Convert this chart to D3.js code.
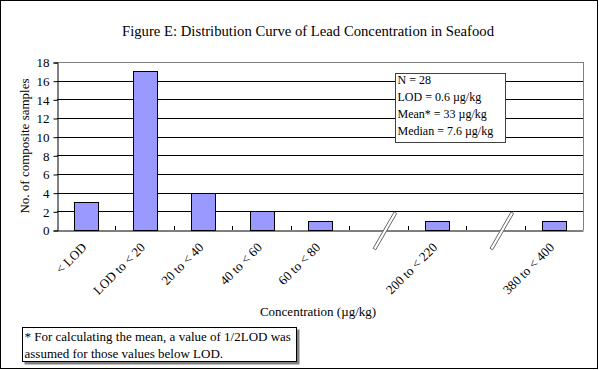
<!DOCTYPE html>
<html>
<head>
<meta charset="utf-8">
<script src="https://cdnjs.cloudflare.com/ajax/libs/d3/7.8.5/d3.min.js"></script>
<style>
  body { margin: 0; background: #fff; }
  text { font-family: "Liberation Serif", "Times New Roman", serif; fill: #000; }
</style>
</head>
<body>
<div id="chart"></div>
<script>
// Chart data.
var categories = ['< LOD', 'LOD to < 20', '20 to < 40', '40 to < 60', '60 to < 80', 'break1', '200 to < 220', 'break2', '380 to < 400'];
var counts = [3, 17, 4, 2, 1, null, 1, null, 1];
var yTicks = [0, 2, 4, 6, 8, 10, 12, 14, 16, 18];
var statsLines = ['N = 28', 'LOD = 0.6 \u00b5g/kg', 'Mean* = 33 \u00b5g/kg', 'Median = 7.6 \u00b5g/kg'];
var noteLines = ['* For calculating the mean, a value of 1/2LOD was', 'assumed for those values below LOD.'];

var W = 599, H = 370;
var plot = {left: 57, top: 62, right: 583, bottom: 230};

var svg = d3.select('#chart')
    .append('svg')
        .attr('width', W)
        .attr('height', H);

// outer frame
svg.append('rect')
    .attr('x', 0.5).attr('y', 0.5)
    .attr('width', W - 2).attr('height', H - 2)
    .attr('fill', '#fff')
    .attr('stroke', '#000');

var x = d3.scaleBand()
    .domain(categories)
    .range([plot.left, plot.right])
    .paddingInner(0.59)
    .paddingOuter(0.295);

var slot = d3.scaleBand()
    .domain(categories)
    .range([plot.left, plot.right]);

var y = d3.scaleLinear()
    .domain([0, 18])
    .range([plot.bottom, plot.top]);

// gridlines
svg.append('g')
    .selectAll('line')
    .data(yTicks.filter(function(d){ return d > 0; }))
    .enter().append('line')
        .attr('x1', plot.left).attr('x2', plot.right)
        .attr('y1', function(d){ return Math.round(y(d)) + 0.5; })
        .attr('y2', function(d){ return Math.round(y(d)) + 0.5; })
        .attr('stroke', function(d){ return d === 18 ? '#808080' : '#000'; });

// right border of plot area
svg.append('line')
    .attr('x1', plot.right + 0.5).attr('x2', plot.right + 0.5)
    .attr('y1', plot.top).attr('y2', plot.bottom)
    .attr('stroke', '#808080');

// bars
svg.append('g')
    .selectAll('rect')
    .data(categories.map(function(c, i){ return {cat: c, v: counts[i]}; })
        .filter(function(d){ return d.v !== null; }))
    .enter().append('rect')
        .attr('x', function(d){ return Math.round(x(d.cat)) + 0.5; })
        .attr('y', function(d){ return Math.round(y(d.v)) + 0.5; })
        .attr('width', Math.round(x.bandwidth()))
        .attr('height', function(d){ return Math.round(y(0)) - Math.round(y(d.v)); })
        .attr('fill', '#9999ff')
        .attr('stroke', '#000');

// y axis
var yAxis = svg.append('g')
    .attr('transform', 'translate(' + (plot.left + 0.5) + ',0.5)')
    .call(d3.axisLeft(y).tickValues(yTicks).tickSize(4).tickPadding(4));
yAxis.select('.domain').attr('stroke', '#000');
yAxis.selectAll('.tick line').attr('stroke', '#000');
yAxis.selectAll('text')
    .style('font-family', '"Liberation Serif", serif')
    .style('font-size', '13px')
    .attr('fill', '#000');

// x axis with ticks pointing into the plot
var xAxis = svg.append('g')
    .attr('transform', 'translate(0,' + (Math.round(plot.bottom) + 0.5) + ')')
    .call(d3.axisBottom(slot).tickSize(0).tickFormat(''));
xAxis.select('.domain').attr('stroke', '#000');
svg.append('g')
    .selectAll('line')
    .data(categories.slice(1))
    .enter().append('line')
        .attr('x1', function(d){ return Math.round(slot(d)) + 0.5; })
        .attr('x2', function(d){ return Math.round(slot(d)) + 0.5; })
        .attr('y1', plot.bottom - 4).attr('y2', plot.bottom)
        .attr('stroke', '#000');

// rotated category labels
svg.append('g')
    .selectAll('text')
    .data(categories.filter(function(c){ return c.indexOf('break') !== 0; }))
    .enter().append('text')
        .attr('transform', function(d){
            var cx = slot(d) + slot.bandwidth() / 2;
            return 'translate(' + (cx - 2) + ',' + (plot.bottom + 15) + ') rotate(-45)';
        })
        .attr('text-anchor', 'end')
        .attr('dy', '0.35em')
        .style('font-size', '13px')
        .text(function(d){ return d; });

// axis break marks
var breaks = svg.append('g')
    .selectAll('g')
    .data(categories.filter(function(c){ return c.indexOf('break') === 0; }))
    .enter().append('g')
        .attr('transform', function(d){
            var cx = slot(d) + slot.bandwidth() / 2;
            return 'translate(' + (cx + 7) + ',' + plot.bottom + ') rotate(-60)';
        });
breaks.append('rect')
    .attr('x', -22).attr('y', -1.5)
    .attr('width', 42).attr('height', 3)
    .attr('fill', '#fff')
    .attr('stroke', '#555')
    .attr('stroke-width', 0.8);

// title
svg.append('text')
    .attr('x', 308).attr('y', 36)
    .attr('text-anchor', 'middle')
    .style('font-size', '14.7px')
    .text('Figure E: Distribution Curve of Lead Concentration in Seafood');

// y axis title
svg.append('text')
    .attr('transform', 'translate(29,' + ((plot.top + plot.bottom) / 2) + ') rotate(-90)')
    .attr('text-anchor', 'middle')
    .style('font-size', '13px')
    .text('No. of composite samples');

// x axis title
svg.append('text')
    .attr('x', 318).attr('y', 316)
    .attr('text-anchor', 'middle')
    .style('font-size', '13px')
    .text('Concentration (\u00b5g/kg)');

// stats box
var stats = svg.append('g').attr('transform', 'translate(395.5,73.5)');
stats.append('rect')
    .attr('width', 110).attr('height', 69)
    .attr('fill', '#fff')
    .attr('stroke', '#404040');
stats.selectAll('text')
    .data(statsLines)
    .enter().append('text')
        .attr('x', 2)
        .attr('y', function(d, i){ return 10 + i * 17; })
        .style('font-size', '12px')
        .text(function(d){ return d; });

// footnote box
var note = svg.append('g').attr('transform', 'translate(22.5,327.5)');
note.append('rect')
    .attr('x', 2).attr('y', 2)
    .attr('width', 275).attr('height', 35)
    .attr('fill', '#808080');
note.append('rect')
    .attr('width', 274).attr('height', 34)
    .attr('fill', '#fff')
    .attr('stroke', '#000');
note.selectAll('text')
    .data(noteLines)
    .enter().append('text')
        .attr('x', 2)
        .attr('y', function(d, i){ return 13 + i * 17; })
        .style('font-size', '13px')
        .text(function(d){ return d; });
</script>
</body>
</html>
